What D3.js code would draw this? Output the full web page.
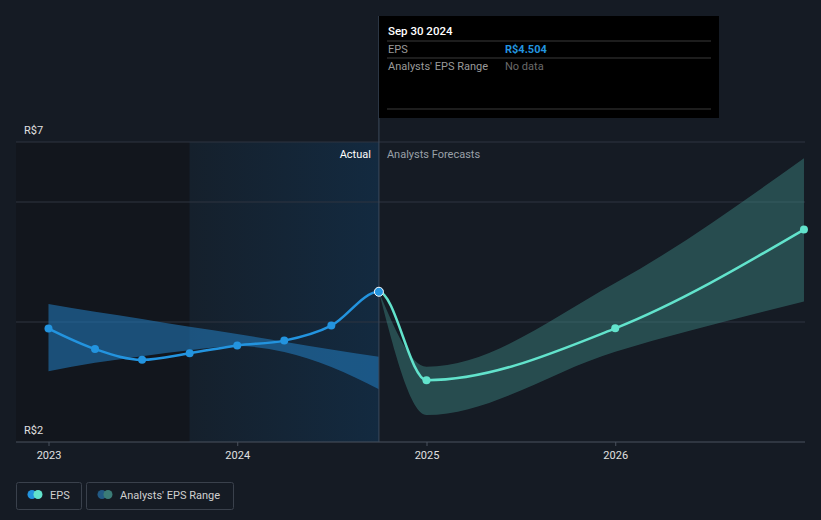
<!DOCTYPE html>
<html><head><meta charset="utf-8">
<script src="https://cdn.jsdelivr.net/npm/d3@7"></script>
<style>
html,body{margin:0;padding:0;background:#151b24;}
svg{display:block;font-family:Roboto, "Noto Sans", sans-serif;}
</style></head>
<body><svg id="c" width="821" height="520"></svg>
<script>
// ---- data ----
const actualDates = ["2022-12-31","2023-03-31","2023-06-30","2023-09-30","2023-12-31","2024-03-31","2024-06-30","2024-09-30"];
const actualEPS   = [3.89, 3.55, 3.37, 3.48, 3.61, 3.69, 3.94, 4.504];
const pastRangeLow  = [3.18, 3.32, 3.43, 3.53, 3.60, 3.50, 3.25, 2.88];
const pastRangeHigh = [4.30, 4.17, 4.05, 3.92, 3.80, 3.67, 3.54, 3.42];
const forecastDates = ["2024-09-30","2024-12-31","2025-12-31","2026-12-31"];
const forecastEPS   = [4.504, 3.03, 3.895, 5.54];
const forecastLow   = [4.504, 2.45, 3.505, 4.34];
const forecastHigh  = [4.504, 3.255, 4.65, 6.73];
const gridValues = [2, 4, 6, 7];
const yLabelValues = [2, 7];
const xTickYears = [2023, 2024, 2025, 2026];

const parse = d3.timeParse("%Y-%m-%d");
const svg = d3.select("#c");
const x = d3.scaleTime().domain([new Date(2023,0,1), new Date(2025,0,1)]).range([49, 427]);
const y = d3.scaleLinear().domain([2, 7]).range([442, 142]);
const left = 16, right = 805;
const nowX = x(parse("2024-09-30"));
const startBand = x(parse("2023-09-30"));

const defs = svg.append("defs");
const g1 = defs.append("linearGradient").attr("id","pastGrad").attr("x1","0").attr("x2","1").attr("y1","0").attr("y2","0");
g1.append("stop").attr("offset","0%").attr("stop-color","#15202c");
g1.append("stop").attr("offset","100%").attr("stop-color","#132a40");
defs.append("clipPath").attr("id","clipPast").append("rect").attr("x",0).attr("y",0).attr("width",nowX).attr("height",520);
defs.append("clipPath").attr("id","clipFut").append("rect").attr("x",nowX).attr("y",0).attr("width",821-nowX).attr("height",520);

// background regions
svg.append("rect").attr("x",left).attr("y",142).attr("width",startBand-left).attr("height",300).attr("fill","#12161d");
svg.append("rect").attr("x",startBand).attr("y",142).attr("width",nowX-startBand).attr("height",300).attr("fill","url(#pastGrad)");

// gridlines
svg.append("g").selectAll("line").data(gridValues).join("line")
  .attr("x1",left).attr("x2",right).attr("y1",d=>y(d)).attr("y2",d=>y(d))
  .attr("stroke",d=>d===2?"#4a525e":"#2e3540").attr("stroke-width",1);

// y labels
svg.append("g").selectAll("text").data(yLabelValues).join("text")
  .attr("x",24).attr("y",d=>y(d)-8).attr("fill","#e0e0e0").attr("font-size",11)
  .text(d=>"R$"+d);

// x axis ticks
const xa = svg.append("g");
xa.selectAll("line").data(xTickYears).join("line")
  .attr("x1",d=>x(new Date(d,0,1))).attr("x2",d=>x(new Date(d,0,1)))
  .attr("y1",442).attr("y2",446).attr("stroke","#4a525e");
xa.selectAll("text").data(xTickYears).join("text")
  .attr("x",d=>x(new Date(d,0,1))).attr("y",459).attr("text-anchor","middle")
  .attr("fill","#e0e0e0").attr("font-size",11).text(d=>d);

// past range band
const pastBand = actualDates.map((d,i)=>({d:parse(d),lo:pastRangeLow[i],hi:pastRangeHigh[i]}));
svg.append("path").datum(pastBand)
  .attr("d", d3.area().x(d=>x(d.d)).y0(d=>y(d.lo)).y1(d=>y(d.hi)).curve(d3.curveMonotoneX))
  .attr("fill","#2177b5").attr("fill-opacity",0.6);

// forecast band
const fBand = forecastDates.map((d,i)=>({d:parse(d),lo:forecastLow[i],hi:forecastHigh[i]}));
svg.append("path").datum(fBand)
  .attr("d", d3.area().x(d=>x(d.d)).y0(d=>y(d.lo)).y1(d=>y(d.hi)).curve(d3.curveMonotoneX))
  .attr("fill","#3e8a84").attr("fill-opacity",0.45);

// now line
svg.append("line").attr("x1",nowX).attr("x2",nowX).attr("y1",16).attr("y2",442)
  .attr("stroke","#3b4a5c").attr("stroke-width",1);

// labels
svg.append("text").attr("x",nowX-8).attr("y",158).attr("text-anchor","end")
  .attr("fill","#ffffff").attr("font-size",11).text("Actual");
svg.append("text").attr("x",nowX+8).attr("y",158)
  .attr("fill","#9aa0a8").attr("font-size",11).text("Analysts Forecasts");

// combined smooth line, split into actual (blue) and forecast (teal)
const aLine = actualDates.map((d,i)=>({d:parse(d),v:actualEPS[i]}));
const fLine = forecastDates.map((d,i)=>({d:parse(d),v:forecastEPS[i]}));
const all = aLine.concat(fLine.slice(1));
const lineGen = d3.line().x(d=>x(d.d)).y(d=>y(d.v)).curve(d3.curveMonotoneX);
svg.append("path").datum(all).attr("d",lineGen).attr("clip-path","url(#clipFut)")
  .attr("fill","none").attr("stroke","#62e3cc").attr("stroke-width",2.5);
svg.append("g").selectAll("circle").data(fLine.slice(1)).join("circle")
  .attr("cx",d=>x(d.d)).attr("cy",d=>y(d.v)).attr("r",4).attr("fill","#62e3cc");
svg.append("path").datum(all).attr("d",lineGen).attr("clip-path","url(#clipPast)")
  .attr("fill","none").attr("stroke","#2394df").attr("stroke-width",2.5);
svg.append("g").selectAll("circle").data(aLine.slice(0,-1)).join("circle")
  .attr("cx",d=>x(d.d)).attr("cy",d=>y(d.v)).attr("r",4).attr("fill","#2394df");
const last = aLine[aLine.length-1];
svg.append("circle").attr("cx",x(last.d)).attr("cy",y(last.v)).attr("r",4.5)
  .attr("fill","#2394df").attr("stroke","#ffffff").attr("stroke-width",1);

// tooltip
const tt = svg.append("g");
tt.append("rect").attr("x",379).attr("y",16).attr("width",340).attr("height",102).attr("fill","#000000");
tt.append("text").attr("x",388).attr("y",35).attr("fill","#ffffff").attr("font-size",11.5).attr("font-weight",500).text("Sep 30 2024");
[41,58,109].forEach(yy=>tt.append("line").attr("x1",387).attr("x2",711).attr("y1",yy).attr("y2",yy).attr("stroke","#3a3a3a"));
tt.append("text").attr("x",388).attr("y",53).attr("fill","#9a9a9a").attr("font-size",11).text("EPS");
tt.append("text").attr("x",505).attr("y",53).attr("fill","#2394df").attr("font-size",11).attr("font-weight",700).text("R$4.504");
tt.append("text").attr("x",388).attr("y",70).attr("fill","#9a9a9a").attr("font-size",11).text("Analysts' EPS Range");
tt.append("text").attr("x",505).attr("y",70).attr("fill","#6a6a6a").attr("font-size",11).text("No data");

// legend
const lg = svg.append("g");
lg.append("rect").attr("x",16.5).attr("y",482.5).attr("width",65).attr("height",27).attr("rx",2)
  .attr("fill","none").attr("stroke","#3a414c");
lg.append("circle").attr("cx",32).attr("cy",494.5).attr("r",4.5).attr("fill","#2394df");
lg.append("circle").attr("cx",38).attr("cy",494.5).attr("r",4.5).attr("fill","#62e3cc");
lg.append("text").attr("x",50).attr("y",499).attr("fill","#d0d0d0").attr("font-size",11).text("EPS");
lg.append("rect").attr("x",86.5).attr("y",482.5).attr("width",147).attr("height",27).attr("rx",2)
  .attr("fill","none").attr("stroke","#3a414c");
lg.append("circle").attr("cx",102).attr("cy",494.5).attr("r",4.5).attr("fill","#225a85");
lg.append("circle").attr("cx",108).attr("cy",494.5).attr("r",4.5).attr("fill","#3b7c77");
lg.append("text").attr("x",120).attr("y",499).attr("fill","#d0d0d0").attr("font-size",11).text("Analysts' EPS Range");
</script></body></html>
